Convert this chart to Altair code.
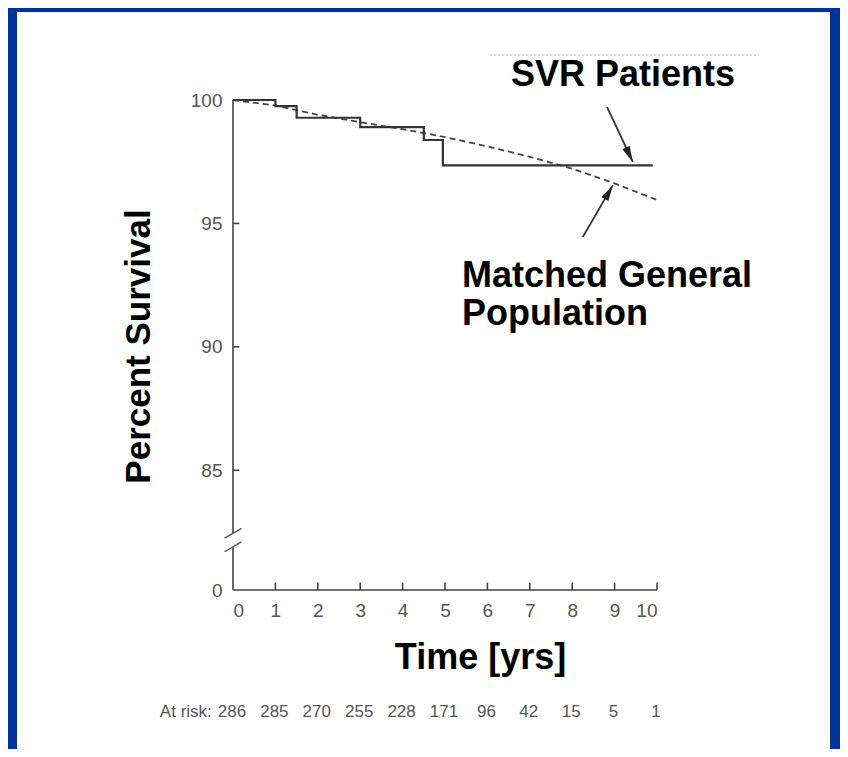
import altair as alt
import pandas as pd

# ---- data ----
svr_t = [0, 1.0, 1.5, 3.0, 4.5, 4.95, 9.9]
svr_s = [100, 99.75, 99.28, 98.9, 98.38, 97.35, 97.35]

gen_t = [0, 1, 2, 3, 4, 5, 6, 7, 8, 9, 10]
gen_s = [100, 99.78, 99.4, 99.1, 98.82, 98.5, 98.12, 97.7, 97.22, 96.62, 95.95]

x_ticks = [0, 1, 2, 3, 4, 5, 6, 7, 8, 9, 10]
y_ticks = [85, 90, 95, 100]
at_risk = [286, 285, 270, 255, 228, 171, 96, 42, 15, 5, 1]

YMIN = 80.15          # position of the broken-axis "0"
BREAK_HI = 82.45
BREAK_LO = 81.9

svr = pd.DataFrame({"t": svr_t, "s": svr_s})
gen = pd.DataFrame({"t": gen_t, "s": gen_s})

# axis lines / ticks / break marks (drawn as rules through scales)
segs = [
    (0, YMIN, 10, YMIN),
    (0, YMIN, 0, BREAK_LO),
    (0, BREAK_HI, 0, 100),
]
segs += [(t, YMIN, t, YMIN + 0.3) for t in x_ticks[1:]]
segs += [(0, v, 0.15, v) for v in y_ticks[:-1]]
slashes = [(-0.2, c - 0.2, 0.2, c + 0.2) for c in (BREAK_HI, BREAK_LO)]
seg_df = pd.DataFrame(segs, columns=["t", "s", "t2", "s2"])
slash_df = pd.DataFrame(slashes, columns=["t", "s", "t2", "s2"])
noise_df = pd.DataFrame({"t": [6.06], "s": [101.82], "t2": [12.4], "s2": [101.82]})

arrows = pd.DataFrame({
    "t": [8.82, 8.25], "s": [99.72, 94.45],
    "t2": [9.43, 8.96], "s2": [97.49, 96.55],
    "ang": [154.6, 30.0],
})
svr_label = pd.DataFrame({"t": [9.2], "s": [100.57], "txt": ["SVR Patients"]})
gen_label = pd.DataFrame({"t": [5.4, 5.4], "s": [92.42, 90.88],
                          "txt": ["Matched General", "Population"]})
risk = pd.DataFrame({"t": x_ticks, "txt": [str(v) for v in at_risk]})
risk_lbl = pd.DataFrame({"t": [-0.5], "txt": ["At risk:"]})

LABEL_FONT = "Liberation Sans Narrow, Liberation Sans, Arial, sans-serif"
BOLD_FONT = "Liberation Sans, Arial, sans-serif"
GRAY = "#555555"

x_axis = alt.Axis(values=x_ticks, format="d", domain=False, ticks=False, grid=False,
                  labelPadding=11, labelFont=LABEL_FONT, labelFontSize=19, labelColor=GRAY,
                  title="Time [yrs]", titleFont=BOLD_FONT, titleFontSize=36, titleFontWeight="bold",
                  titleColor="#000000", titleX=247, titleY=78, titleBaseline="alphabetic",
                  titleAlign="center", zindex=1)
y_axis = alt.Axis(values=[YMIN] + y_ticks, format="d",
                  labelExpr="datum.value < 84 ? '0' : datum.label",
                  domain=False, ticks=False, grid=False,
                  labelPadding=11, labelFont=LABEL_FONT, labelFontSize=19, labelColor=GRAY,
                  title="Percent Survival", titleFont=BOLD_FONT, titleFontSize=35, titleFontWeight="bold",
                  titleColor="#000000", titleAngle=270, titleX=-84, titleY=246,
                  titleBaseline="alphabetic", titleAlign="center", zindex=1)

xs = alt.Scale(domain=[0, 10], nice=False, zero=False)
ys = alt.Scale(domain=[YMIN, 100], nice=False, zero=False)
X = alt.X("t:Q", scale=xs, axis=x_axis)
Y = alt.Y("s:Q", scale=ys, axis=y_axis)

panel = alt.Chart(pd.DataFrame({"a": [0]})).mark_rect(fill="white").encode(
    x=alt.value(-216), x2=alt.value(597), y=alt.value(-88), y2=alt.value(649)
)

noise = alt.Chart(noise_df).mark_rule(color="#dddddd", strokeWidth=2, strokeDash=[2, 2]).encode(
    x=X, y=Y, x2="t2:Q", y2="s2:Q")
axis_lines = alt.Chart(seg_df).mark_rule(color="#444444", strokeWidth=1.6).encode(
    x=X, y=Y, x2="t2:Q", y2="s2:Q")
slash_lines = alt.Chart(slash_df).mark_rule(color="#555555", strokeWidth=1.4).encode(
    x=X, y=Y, x2="t2:Q", y2="s2:Q")

gen_line = alt.Chart(gen).mark_line(color="#444444", strokeWidth=1.8, strokeDash=[6, 4]).encode(
    x=X, y=Y)
svr_line = alt.Chart(svr).mark_line(color="#333333", strokeWidth=2.2, interpolate="step-after").encode(
    x=X, y=Y)

arrow_shaft = alt.Chart(arrows).mark_rule(color="#333333", strokeWidth=1.8).encode(
    x=X, y=Y, x2="t2:Q", y2="s2:Q")
arrow_head = alt.Chart(arrows).mark_point(
    shape="M0,0 L0.5,2 L-0.5,2 Z", filled=True, color="#222222", size=256, opacity=1
).encode(x=alt.X("t2:Q", scale=xs, axis=x_axis),
         y=alt.Y("s2:Q", scale=ys, axis=y_axis),
         angle=alt.Angle("ang:Q", scale=None))

ann1 = alt.Chart(svr_label).mark_text(font=BOLD_FONT, fontSize=36, fontWeight="bold",
                                      color="#000000", baseline="alphabetic", align="center").encode(
    x=X, y=Y, text="txt:N")
ann2 = alt.Chart(gen_label).mark_text(font=BOLD_FONT, fontSize=36, fontWeight="bold",
                                      color="#000000", baseline="alphabetic", align="left").encode(
    x=X, y=Y, text="txt:N")

risk_txt = alt.Chart(risk).mark_text(font=LABEL_FONT, fontSize=17, color=GRAY,
                                     baseline="alphabetic", align="center", dx=-1).encode(
    x=X, y=alt.value(617), text="txt:N")
risk_head = alt.Chart(risk_lbl).mark_text(font=LABEL_FONT, fontSize=17, color=GRAY,
                                          baseline="alphabetic", align="right").encode(
    x=X, y=alt.value(617), text="txt:N")

chart = alt.layer(
    panel, noise, axis_lines, slash_lines, gen_line, svr_line, arrow_shaft, arrow_head, ann1, ann2,
    risk_txt, risk_head
).properties(
    width=424, height=490,
    padding={"left": 225, "top": 92, "right": 183, "bottom": 159},
    autosize=alt.AutoSizeParams(type="none"),
).configure(background="#003399").configure_view(stroke=None)

chart.save("out.html", embed_options={"renderer": "svg", "actions": False})
